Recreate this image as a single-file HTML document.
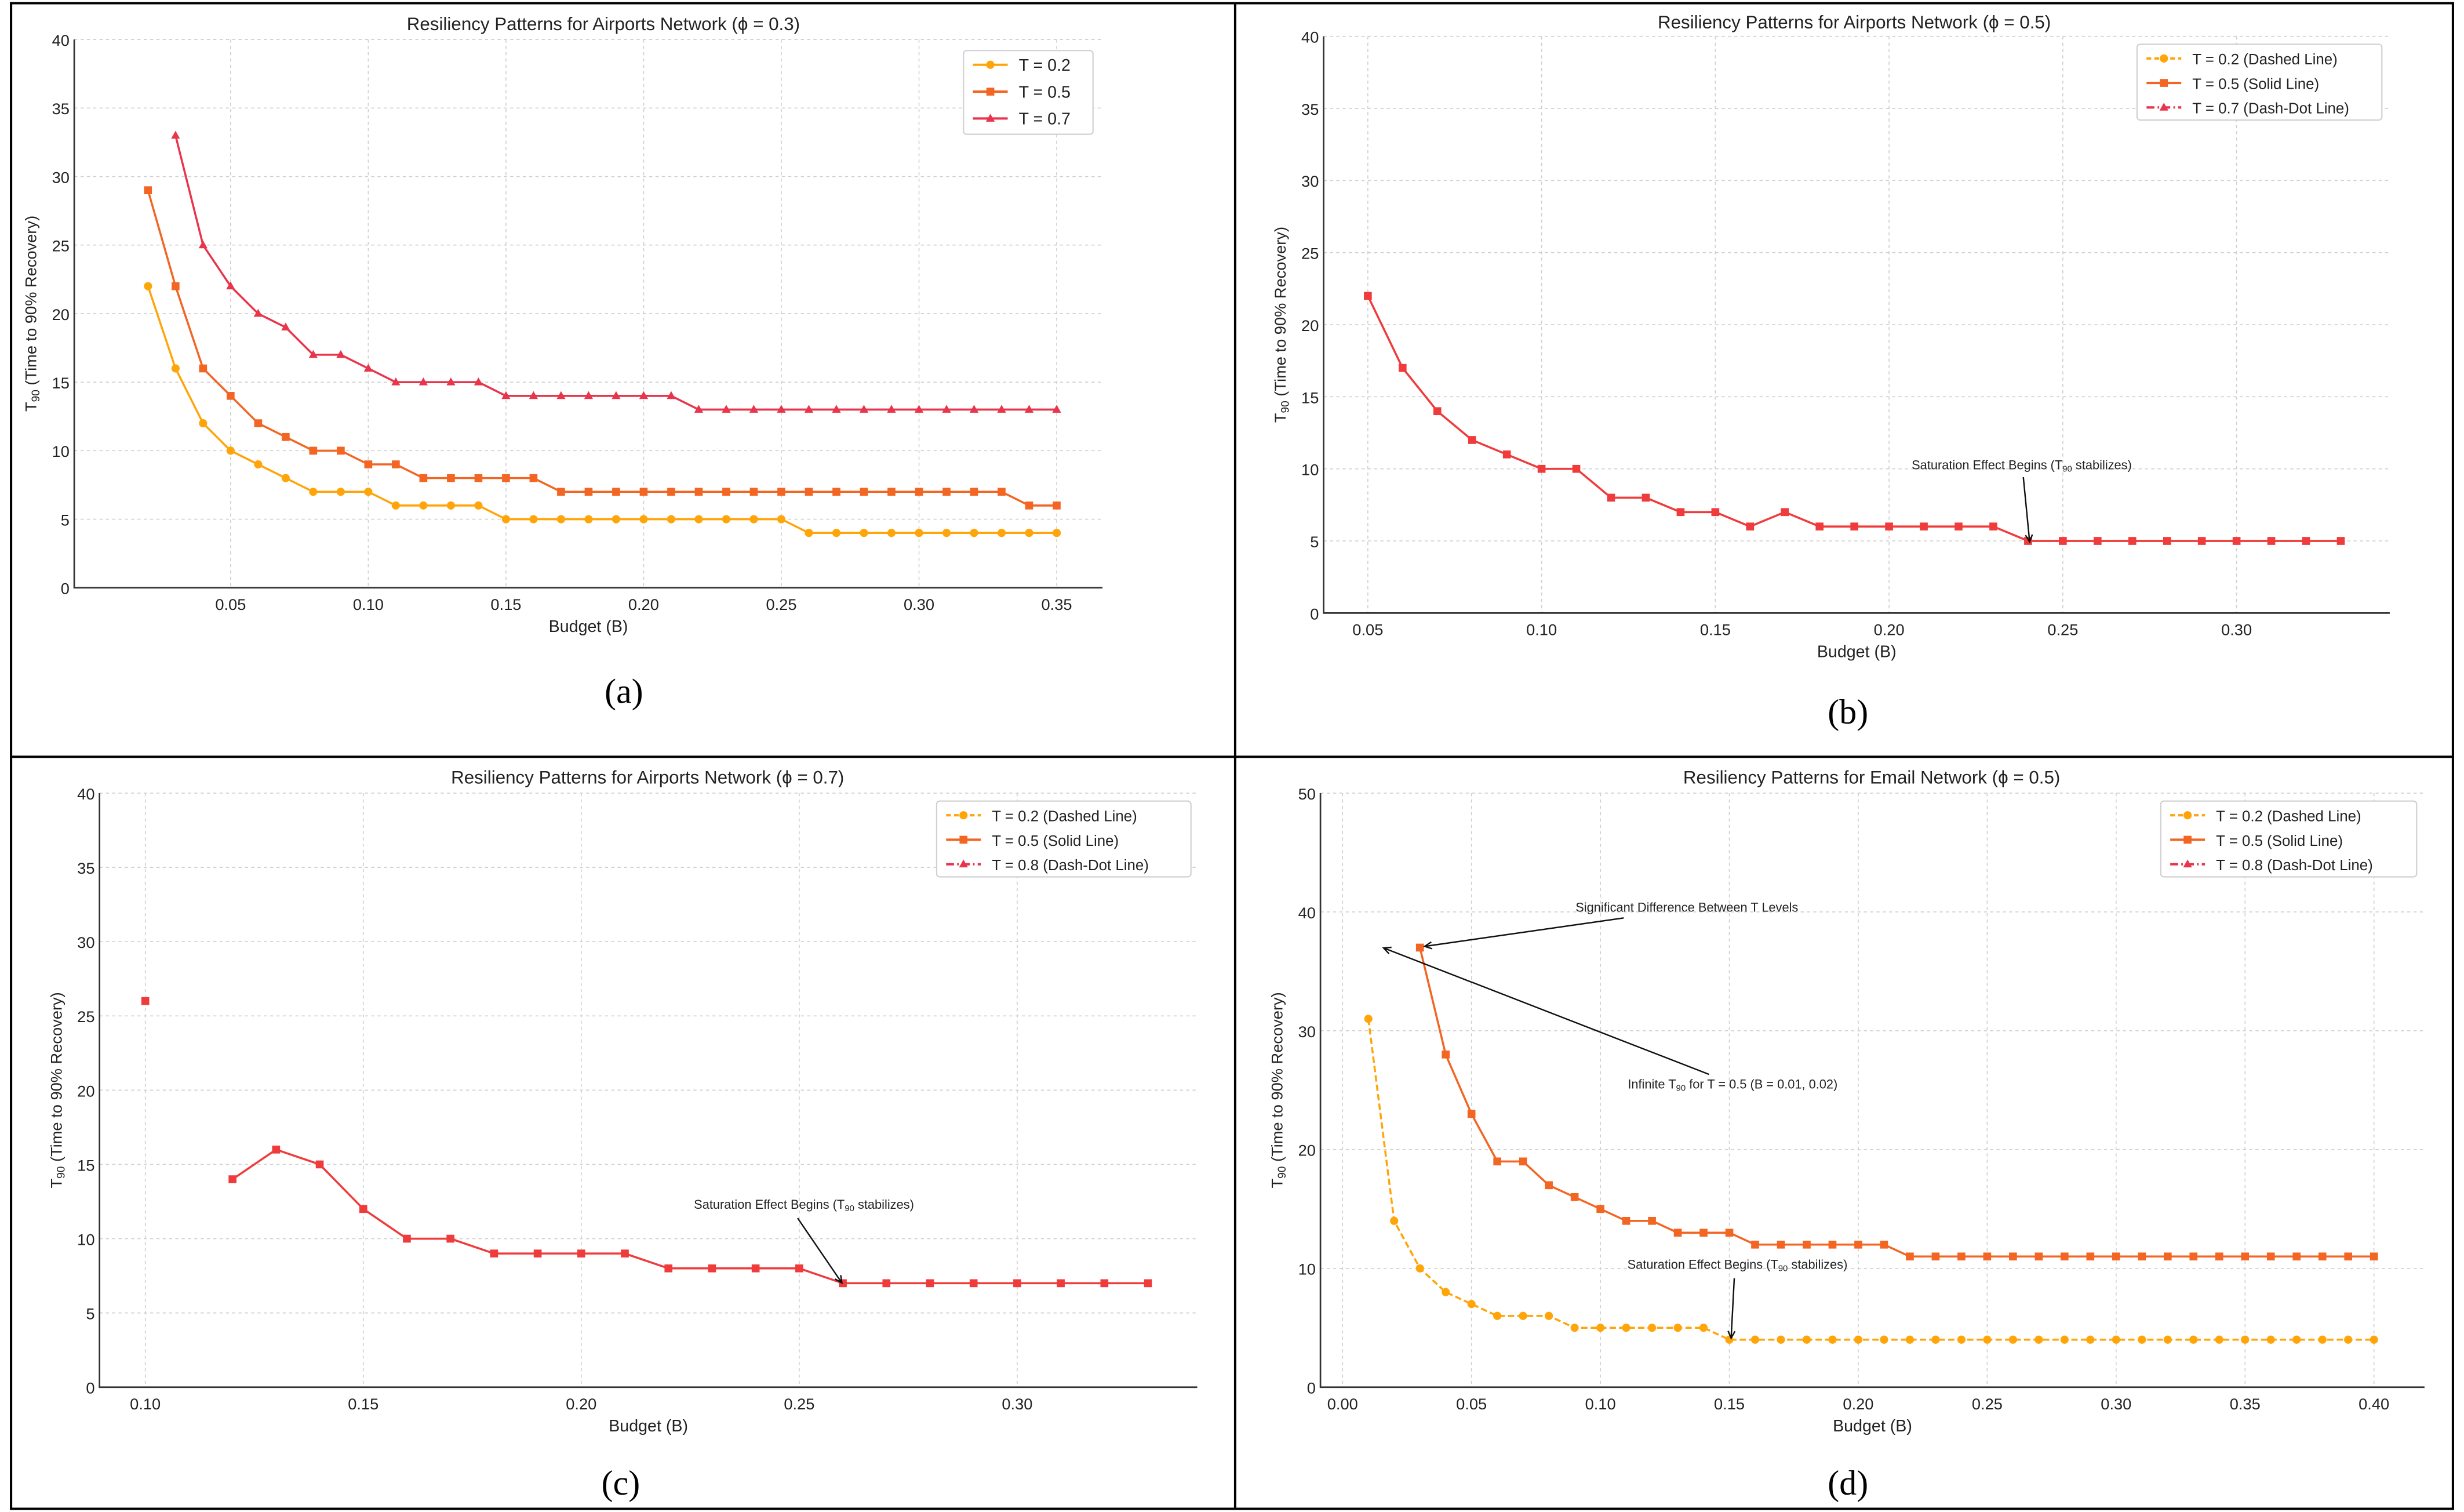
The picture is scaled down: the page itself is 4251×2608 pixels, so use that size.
<!DOCTYPE html>
<html><head><meta charset="utf-8"><style>
html,body{margin:0;padding:0;background:#fff;}
svg{display:block;}
text{font-family:"Liberation Sans","DejaVu Sans",sans-serif;}
</style></head><body>
<svg id="fig" width="4251" height="2608" viewBox="0 0 1560 957" preserveAspectRatio="none" xmlns="http://www.w3.org/2000/svg">
<rect x="0" y="0" width="1560" height="957" fill="#fff"/>
<g fill="none" stroke="#000" stroke-width="1.5">
<rect x="7" y="2" width="1546" height="953"/>
<line x1="782" y1="2" x2="782" y2="955"/>
<line x1="7" y1="479" x2="1553" y2="479"/>
</g>
<text x="395" y="445" font-size="22" text-anchor="middle" style="font-family:'Liberation Serif',serif">(a)</text>
<text x="1170" y="458" font-size="22" text-anchor="middle" style="font-family:'Liberation Serif',serif">(b)</text>
<text x="393" y="946" font-size="22" text-anchor="middle" style="font-family:'Liberation Serif',serif">(c)</text>
<text x="1170" y="946" font-size="22" text-anchor="middle" style="font-family:'Liberation Serif',serif">(d)</text>
</svg>
<script>
// ---- Panel (a) data ----
const aX02=[0.02,0.03,0.04,0.05,0.06,0.07,0.08,0.09,0.10,0.11,0.12,0.13,0.14,0.15,0.16,0.17,0.18,0.19,0.20,0.21,0.22,0.23,0.24,0.25,0.26,0.27,0.28,0.29,0.30,0.31,0.32,0.33,0.34,0.35];
const aY02=[22,16,12,10,9,8,7,7,7,6,6,6,6,5,5,5,5,5,5,5,5,5,5,5,4,4,4,4,4,4,4,4,4,4];
const aX05=[0.02,0.03,0.04,0.05,0.06,0.07,0.08,0.09,0.10,0.11,0.12,0.13,0.14,0.15,0.16,0.17,0.18,0.19,0.20,0.21,0.22,0.23,0.24,0.25,0.26,0.27,0.28,0.29,0.30,0.31,0.32,0.33,0.34,0.35];
const aY05=[29,22,16,14,12,11,10,10,9,9,8,8,8,8,8,7,7,7,7,7,7,7,7,7,7,7,7,7,7,7,7,7,6,6];
const aX07=[0.03,0.04,0.05,0.06,0.07,0.08,0.09,0.10,0.11,0.12,0.13,0.14,0.15,0.16,0.17,0.18,0.19,0.20,0.21,0.22,0.23,0.24,0.25,0.26,0.27,0.28,0.29,0.30,0.31,0.32,0.33,0.34,0.35];
const aY07=[33,25,22,20,19,17,17,16,15,15,15,15,14,14,14,14,14,14,14,13,13,13,13,13,13,13,13,13,13,13,13,13,13];
const aXTicks=["0.05","0.10","0.15","0.20","0.25","0.30","0.35"];
const aYTicks=["0","5","10","15","20","25","30","35","40"];
// ---- Panel (b) data ----
const bX=[0.05,0.06,0.07,0.08,0.09,0.10,0.11,0.12,0.13,0.14,0.15,0.16,0.17,0.18,0.19,0.20,0.21,0.22,0.23,0.24,0.25,0.26,0.27,0.28,0.29,0.30,0.31,0.32,0.33];
const bY=[22,17,14,12,11,10,10,8,8,7,7,6,7,6,6,6,6,6,6,5,5,5,5,5,5,5,5,5,5];
const bXTicks=["0.05","0.10","0.15","0.20","0.25","0.30"];
const bYTicks=["0","5","10","15","20","25","30","35","40"];
// ---- Panel (c) data ----
const cX=[0.10,0.12,0.13,0.14,0.15,0.16,0.17,0.18,0.19,0.20,0.21,0.22,0.23,0.24,0.25,0.26,0.27,0.28,0.29,0.30,0.31,0.32,0.33];
const cY=[26,14,16,15,12,10,10,9,9,9,9,8,8,8,8,7,7,7,7,7,7,7,7];
const cXTicks=["0.10","0.15","0.20","0.25","0.30"];
const cYTicks=["0","5","10","15","20","25","30","35","40"];
// ---- Panel (d) data ----
const dX02=[0.01,0.02,0.03,0.04,0.05,0.06,0.07,0.08,0.09,0.10,0.11,0.12,0.13,0.14,0.15,0.16,0.17,0.18,0.19,0.20,0.21,0.22,0.23,0.24,0.25,0.26,0.27,0.28,0.29,0.30,0.31,0.32,0.33,0.34,0.35,0.36,0.37,0.38,0.39,0.40];
const dY02=[31,14,10,8,7,6,6,6,5,5,5,5,5,5,4,4,4,4,4,4,4,4,4,4,4,4,4,4,4,4,4,4,4,4,4,4,4,4,4,4];
const dX05=[0.03,0.04,0.05,0.06,0.07,0.08,0.09,0.10,0.11,0.12,0.13,0.14,0.15,0.16,0.17,0.18,0.19,0.20,0.21,0.22,0.23,0.24,0.25,0.26,0.27,0.28,0.29,0.30,0.31,0.32,0.33,0.34,0.35,0.36,0.37,0.38,0.39,0.40];
const dY05=[37,28,23,19,19,17,16,15,14,14,13,13,13,12,12,12,12,12,12,11,11,11,11,11,11,11,11,11,11,11,11,11,11,11,11,11,11,11];
const dXTicks=["0.00","0.05","0.10","0.15","0.20","0.25","0.30","0.35","0.40"];
const dYTicks=["0","10","20","30","40","50"];

const NS="http://www.w3.org/2000/svg";
const fig=document.getElementById('fig');
function mk(tag,attrs,parent){const e=document.createElementNS(NS,tag);for(const k in attrs)e.setAttribute(k,attrs[k]);(parent||fig).appendChild(e);return e;}

const YEL="#ffa50a", ORG="#f26522", RED="#e8354c", RED2="#ef3b3b";

function panel(p){
  const g=mk('g',{});
  
  
  // axis functions
  const sx=v=>p.x0px+(v-p.x0v)*(p.x1px-p.x0px)/(p.x1v-p.x0v);
  const sy=v=>p.yb+(v-p.ymin)*(p.yt-p.yb)/(p.ymax-p.ymin);
  // grid
  p.xTicks.forEach(t=>{
    const x=sx(parseFloat(t));
    const l=mk('line',{x1:x,x2:x,y1:p.yt,y2:p.yb,stroke:'#cfcfcf','stroke-width':0.6,'stroke-dasharray':'2,2'},g);
    
    
    const tx=mk('text',{x:x,y:p.yb+14,'font-size':10,'text-anchor':'middle',fill:'#222'},g);
    tx.textContent=t;
    
    
  });
  p.yTicks.forEach(t=>{
    const y=sy(parseFloat(t));
    const l=mk('line',{x1:p.xl,x2:p.xr,y1:y,y2:y,stroke:'#cfcfcf','stroke-width':0.6,'stroke-dasharray':'2,2'},g);
    
    
    const tx=mk('text',{x:p.xl-3,y:y+4,'font-size':10,'text-anchor':'end',fill:'#222'},g);
    tx.textContent=t;
    
    
  });
  const ax=mk('path',{d:`M${p.xl},${p.yt} L${p.xl},${p.yb} L${p.xr},${p.yb}`,fill:'none',stroke:'#333','stroke-width':1},g);
  
  
  const ti=mk('text',{x:p.tx,y:p.ty,'font-size':11.5,'text-anchor':'middle',fill:'#222'},g);
  ti.textContent=p.title;
  
  
  const xl=mk('text',{x:(p.xl+p.xr)/2,y:p.yb+28,'font-size':10.5,'text-anchor':'middle',fill:'#222'},g);
  xl.textContent='Budget (B)';
  
  
  const yc=(p.yt+p.yb)/2, yx=p.xl-24;
  const yl=mk('text',{x:yx,y:yc,'font-size':10,'text-anchor':'middle',fill:'#222',transform:`rotate(-90 ${yx} ${yc})`},g);
  yl.innerHTML='T<tspan font-size="7" dy="2">90</tspan><tspan dy="-2"> (Time to 90% Recovery)</tspan>';
  
  
  // series
  p.series.forEach(s=>{
    const sg=mk('g',{},g);
    
    
    // split into segments for gaps > 0.015
    let d='';
    s.xs.forEach((v,i)=>{
      const gap=i>0 && (v-s.xs[i-1])>0.015;
      d+=(i===0||gap?'M':'L')+sx(v).toFixed(2)+','+sy(s.ys[i]).toFixed(2)+' ';
    });
    const ln=mk('path',{d:d,fill:'none',stroke:s.color,'stroke-width':1.3},sg);
    if(s.dash) ln.setAttribute('stroke-dasharray',s.dash);
    
    
    s.xs.forEach((v,i)=>{
      const x=sx(v), y=sy(s.ys[i]);
      let m;
      if(s.marker==='o') m=mk('circle',{cx:x,cy:y,r:2.6,fill:s.color},sg);
      else if(s.marker==='s') m=mk('rect',{x:x-2.5,y:y-2.5,width:5,height:5,fill:s.color},sg);
      else m=mk('path',{d:`M${x},${y-3} L${x+2.8},${y+2} L${x-2.8},${y+2} Z`,fill:s.color},sg);
      
      
    });
  });
  // legend
  const L=p.legend;
  const lg=mk('g',{},g);
  
  
  mk('rect',{x:L.x,y:L.y,width:L.w,height:L.h,rx:2,fill:'#fff',stroke:'#d0d0d0','stroke-width':0.8},lg);
  L.items.forEach((it,i)=>{
    const y=L.y+9+i*L.dy;
    const e=mk('g',{},lg);
    
    
    const l=mk('line',{x1:L.x+6,x2:L.x+28,y1:y,y2:y,stroke:it.color,'stroke-width':1.5},e);
    if(it.dash) l.setAttribute('stroke-dasharray',it.dash);
    const cx=L.x+17;
    if(it.marker==='o') mk('circle',{cx:cx,cy:y,r:2.6,fill:it.color},e);
    else if(it.marker==='s') mk('rect',{x:cx-2.5,y:y-2.5,width:5,height:5,fill:it.color},e);
    else mk('path',{d:`M${cx},${y-3} L${cx+2.8},${y+2} L${cx-2.8},${y+2} Z`,fill:it.color},e);
    const t=mk('text',{x:L.x+35,y:y+3.8,'font-size':L.fs,fill:'#222'},e);
    t.textContent=it.label;
  });
  // annotations
  (p.ann||[]).forEach(a=>{
    const ag=mk('g',{},g);
    
    
    const t=mk('text',{x:a.tx,y:a.ty,'font-size':8,'text-anchor':'middle',fill:'#222'},ag);
    t.innerHTML=a.html;
    mk('line',{x1:a.x1,y1:a.y1,x2:a.x2,y2:a.y2,stroke:'#111','stroke-width':0.9},ag);
    const ang=Math.atan2(a.y2-a.y1,a.x2-a.x1), h=5;
    const p1=[a.x2-h*Math.cos(ang-0.45),a.y2-h*Math.sin(ang-0.45)];
    const p2=[a.x2-h*Math.cos(ang+0.45),a.y2-h*Math.sin(ang+0.45)];
    mk('path',{d:`M${p1} L${a.x2},${a.y2} L${p2}`,fill:'none',stroke:'#111','stroke-width':0.9},ag);
  });
}
const sat='Saturation Effect Begins (T<tspan font-size="5.5" dy="1.5">90</tspan><tspan dy="-1.5"> stabilizes)</tspan>';

panel({name:'chart-a',title:'Resiliency Patterns for Airports Network (ϕ = 0.3)',tx:382,ty:19,
  xl:47,xr:698,yt:25,yb:372,x0v:0.05,x1v:0.35,x0px:146,x1px:669,ymin:0,ymax:40,
  xTicks:aXTicks,yTicks:aYTicks,
  series:[
    {name:'series-t02',xs:aX02,ys:aY02,color:YEL,marker:'o'},
    {name:'series-t05',xs:aX05,ys:aY05,color:ORG,marker:'s'},
    {name:'series-t07',xs:aX07,ys:aY07,color:RED,marker:'^'}],
  legend:{x:610,y:32,w:82,h:53,dy:17,fs:10.5,items:[
    {label:'T = 0.2',color:YEL,marker:'o'},{label:'T = 0.5',color:ORG,marker:'s'},{label:'T = 0.7',color:RED,marker:'^'}]}
});
panel({name:'chart-b',title:'Resiliency Patterns for Airports Network (ϕ = 0.5)',tx:1174,ty:18,
  xl:838,xr:1513,yt:23,yb:388,x0v:0.05,x1v:0.30,x0px:866,x1px:1416,ymin:0,ymax:40,
  xTicks:bXTicks,yTicks:bYTicks,
  series:[{name:'series-t05',xs:bX,ys:bY,color:RED2,marker:'s'}],
  legend:{x:1353,y:28,w:155,h:48,dy:15.5,fs:9.5,items:[
    {label:'T = 0.2 (Dashed Line)',color:YEL,marker:'o',dash:'3,2'},{label:'T = 0.5 (Solid Line)',color:ORG,marker:'s'},{label:'T = 0.7 (Dash-Dot Line)',color:RED,marker:'^',dash:'5,2,1,2'}]},
  ann:[{name:'annotation-saturation',html:sat,tx:1280,ty:297,x1:1281,y1:302,x2:1285,y2:343}]
});
panel({name:'chart-c',title:'Resiliency Patterns for Airports Network (ϕ = 0.7)',tx:410,ty:496,
  xl:63,xr:758,yt:502,yb:878,x0v:0.10,x1v:0.30,x0px:92,x1px:644,ymin:0,ymax:40,
  xTicks:cXTicks,yTicks:cYTicks,
  series:[{name:'series-t05',xs:cX,ys:cY,color:RED2,marker:'s'}],
  legend:{x:593,y:507,w:161,h:48,dy:15.5,fs:9.5,items:[
    {label:'T = 0.2 (Dashed Line)',color:YEL,marker:'o',dash:'3,2'},{label:'T = 0.5 (Solid Line)',color:ORG,marker:'s'},{label:'T = 0.8 (Dash-Dot Line)',color:RED,marker:'^',dash:'5,2,1,2'}]},
  ann:[{name:'annotation-saturation',html:sat,tx:509,ty:765,x1:505,y1:771,x2:533,y2:812}]
});
panel({name:'chart-d',title:'Resiliency Patterns for Email Network (ϕ = 0.5)',tx:1185,ty:496,
  xl:836,xr:1535,yt:502,yb:878,x0v:0.0,x1v:0.40,x0px:850,x1px:1503,ymin:0,ymax:50,
  xTicks:dXTicks,yTicks:dYTicks,
  series:[
    {name:'series-t02',xs:dX02,ys:dY02,color:YEL,marker:'o',dash:'4,2'},
    {name:'series-t05',xs:dX05,ys:dY05,color:ORG,marker:'s'}],
  legend:{x:1368,y:507,w:162,h:48,dy:15.5,fs:9.5,items:[
    {label:'T = 0.2 (Dashed Line)',color:YEL,marker:'o',dash:'3,2'},{label:'T = 0.5 (Solid Line)',color:ORG,marker:'s'},{label:'T = 0.8 (Dash-Dot Line)',color:RED,marker:'^',dash:'5,2,1,2'}]},
  ann:[
    {name:'annotation-significant-difference',html:'Significant Difference Between T Levels',tx:1068,ty:577,x1:1028,y1:581,x2:902,y2:599},
    {name:'annotation-infinite',html:'Infinite T<tspan font-size="5.5" dy="1.5">90</tspan><tspan dy="-1.5"> for T = 0.5 (B = 0.01, 0.02)</tspan>',tx:1097,ty:689,x1:1082,y1:680,x2:876,y2:600},
    {name:'annotation-saturation',html:sat,tx:1100,ty:803,x1:1098,y1:809,x2:1096,y2:847}]
});
</script>
</body></html>
